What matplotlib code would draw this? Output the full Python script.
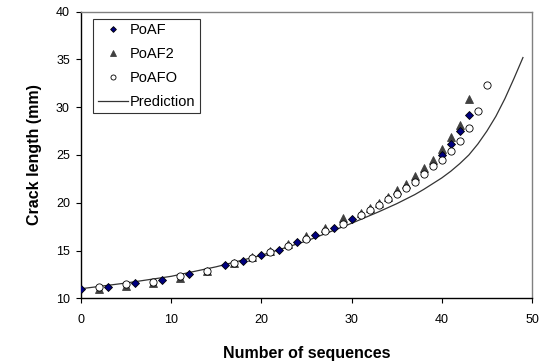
import matplotlib
matplotlib.use('Agg')
import matplotlib.pyplot as plt

plt.rcParams['font.family'] = ['Liberation Sans', 'DejaVu Sans']

poaf_x = [0, 3, 6, 9, 12, 16, 18, 20, 22, 24, 26, 28, 30, 40, 41, 42, 43]
poaf_y = [10.95, 11.2, 11.55, 11.9, 12.55, 13.45, 13.9, 14.5, 15.1, 15.9, 16.65, 17.35, 18.3,
          25.0, 26.2, 27.5, 29.2]

poaf2_x = [2, 5, 8, 11, 14, 17, 19, 21, 23, 25, 27, 29, 31, 32, 33, 34, 35, 36, 37, 38,
           39, 40, 41, 42, 43]
poaf2_y = [11.0, 11.3, 11.6, 12.15, 12.85, 13.7, 14.3, 14.9, 15.65, 16.5, 17.4, 18.4, 18.9,
           19.5, 20.0, 20.6, 21.3, 22.0, 22.8, 23.6, 24.5, 25.6, 26.9, 28.1, 30.9]

poafo_x = [2, 5, 8, 11, 14, 17, 19, 21, 23, 25, 27, 29, 31, 32, 33, 34, 35, 36, 37, 38,
           39, 40, 41, 42, 43, 44, 45]
poafo_y = [11.2, 11.5, 11.7, 12.3, 12.9, 13.65, 14.2, 14.8, 15.5, 16.25, 17.0, 17.8, 18.7,
           19.2, 19.8, 20.4, 20.9, 21.5, 22.2, 23.0, 23.8, 24.45, 25.4, 26.5, 27.8, 29.6, 32.3]

pred_x = [0, 5, 10, 15, 20, 25, 28, 30, 31, 33, 35, 37, 38, 39, 40, 41, 42, 43, 44, 45,
          46, 47, 48, 49]
pred_y = [11.0, 11.6, 12.3, 13.3, 14.5, 16.0, 17.1, 17.85, 18.25, 19.05, 19.9, 20.85, 21.4,
          22.0, 22.6, 23.3, 24.1, 25.0, 26.15, 27.5, 29.05, 30.9, 33.0, 35.2]

fig = plt.figure(figsize=(5.42, 3.64), dpi=100)
ax = fig.add_axes([0.1494, 0.1805, 0.8321, 0.7874])

ax.plot(poaf_x, poaf_y, linestyle='none', marker='D', markersize=4.2,
        markerfacecolor='#000080', markeredgecolor='black', markeredgewidth=0.6,
        label='PoAF', zorder=3)
ax.plot(poaf2_x, poaf2_y, linestyle='none', marker='^', markersize=6,
        markerfacecolor='#404040', markeredgecolor='#404040', markeredgewidth=0.6,
        label='PoAF2', zorder=2)
ax.plot(poafo_x, poafo_y, linestyle='none', marker='o', markersize=5.2,
        markerfacecolor='white', markeredgecolor='black', markeredgewidth=0.6,
        label='PoAFO', zorder=4)
ax.plot(pred_x, pred_y, color='#333333', linewidth=0.9, label='Prediction', zorder=1)

ax.set_xlim(0, 50)
ax.set_ylim(10, 40)
ax.set_xticks(range(0, 51, 10))
ax.set_yticks(range(10, 41, 5))
ax.tick_params(direction='out', length=3.5, width=0.8, labelsize=9, colors='black')
ax.tick_params(axis='x', pad=7.5)
ax.tick_params(axis='y', pad=4.5)

for side in ['left', 'bottom']:
    ax.spines[side].set_color('black')
    ax.spines[side].set_linewidth(1.0)
for side in ['top', 'right']:
    ax.spines[side].set_color('#808080')
    ax.spines[side].set_linewidth(1.0)

ax.set_xlabel('Number of sequences', fontsize=11.5, fontweight='bold', labelpad=15)
ax.set_ylabel('Crack length (mm)', fontsize=11.5, fontweight='bold', labelpad=10)

leg = ax.legend(loc='upper left', bbox_to_anchor=(0.027, 0.9745), fontsize=10.5,
                frameon=True, fancybox=False, edgecolor='black', borderpad=0.3,
                labelspacing=0.68, handlelength=2.1, handletextpad=0.12,
                borderaxespad=0, markerscale=0.7)
leg.get_frame().set_linewidth(0.8)

fig.savefig('out.png', dpi=100)
